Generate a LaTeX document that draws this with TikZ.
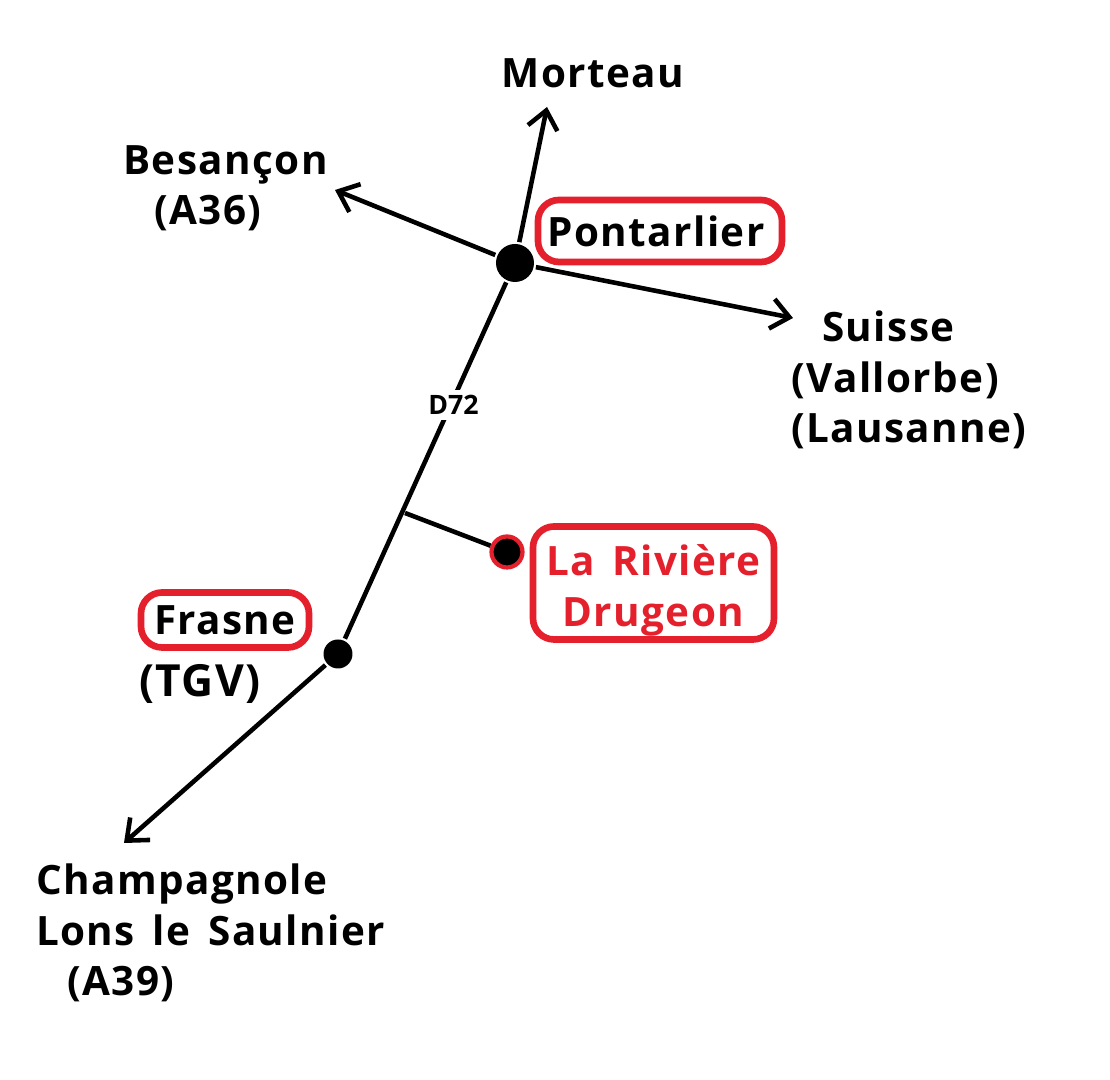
\documentclass[tikz,border=0pt]{standalone}
\usepackage{fontspec}
\setmainfont{Open Sans}[LetterSpace=3.5,WordSpace=1.5]
\newfontfamily\plainfont{Open Sans}
\usetikzlibrary{arrows.meta,positioning}
\definecolor{boxred}{RGB}{228,32,44}
\tikzset{
    road/.style={line width=1.3pt,black},
    town/.style={font=\fontsize{11.5}{14.3}\selectfont\bfseries,inner sep=0pt,align=left},
    redbox/.style={town,draw=boxred,line width=1.9pt,rounded corners=6pt,align=center},
    dot/.style={circle,fill=black,inner sep=0pt}
}
\begin{document}
\begin{tikzpicture}[->,>={Straight Barb[length=1.8mm,width=3mm]},road]
    \useasboundingbox (0,0) rectangle (11.1,10.8);

    \node [dot,minimum size=3.8mm] (P) at (5.15,8.17) {};
    \node [dot,minimum size=2.9mm] (F) at (3.38,4.26) {};
    \node [dot,draw=boxred,line width=1.2pt,minimum size=3.1mm] (R) at (5.07,5.28) {};
    \coordinate (J) at (4.05,5.67);
    \coordinate (mor) at (5.47,9.73);
    \coordinate (bes) at (3.35,8.90);
    \coordinate (sui) at (7.93,7.62);
    \coordinate (cha) at (1.24,2.37);

    \draw (P) -- (mor);
    \draw (P) -- (bes);
    \draw (P) -- (sui);
    \draw (F) -- (cha);
    \draw [-] (P) -- (F) node [pos=0.345,xshift=0.03cm,fill=white,inner sep=1.5pt,font=\plainfont\fontsize{7.6}{9}\selectfont\bfseries] (D) {D72};
    \draw [-] (J) -- (R);

    \node [town] (morteau) at (5.93,10.07) {Morteau};
    \node [town,anchor=west] (besancon) at (1.21,8.92) {Besançon\\\hspace{3.1mm}(A36)};
    \node [town,anchor=west] (suisse) at (7.89,7.00) {\hspace{3.1mm}Suisse\\(Vallorbe)\\(Lausanne)};
    \node [town,anchor=west] (lons) at (0.34,1.47) {Champagnole\\Lons le Saulnier\\\hspace{3.1mm}(A39)};
    \node [town,font=\fontsize{12.6}{14.3}\selectfont\bfseries] (tgv) at (2.00,3.96) {(TGV)};

    \node [redbox,minimum width=2.44cm,minimum height=0.62cm] (pontarlier) at (6.60,8.49) {Pontarlier\kern0.8mm};
    \node [redbox,minimum width=1.68cm,minimum height=0.55cm] (frasne) at (2.25,4.60) {Frasne};
    \node [redbox,text=boxred,minimum width=2.41cm,minimum height=1.13cm] (riviere) at (6.535,4.97) {\rule{0pt}{4.6mm}La Rivière\\Drugeon};
\end{tikzpicture}
\end{document}
